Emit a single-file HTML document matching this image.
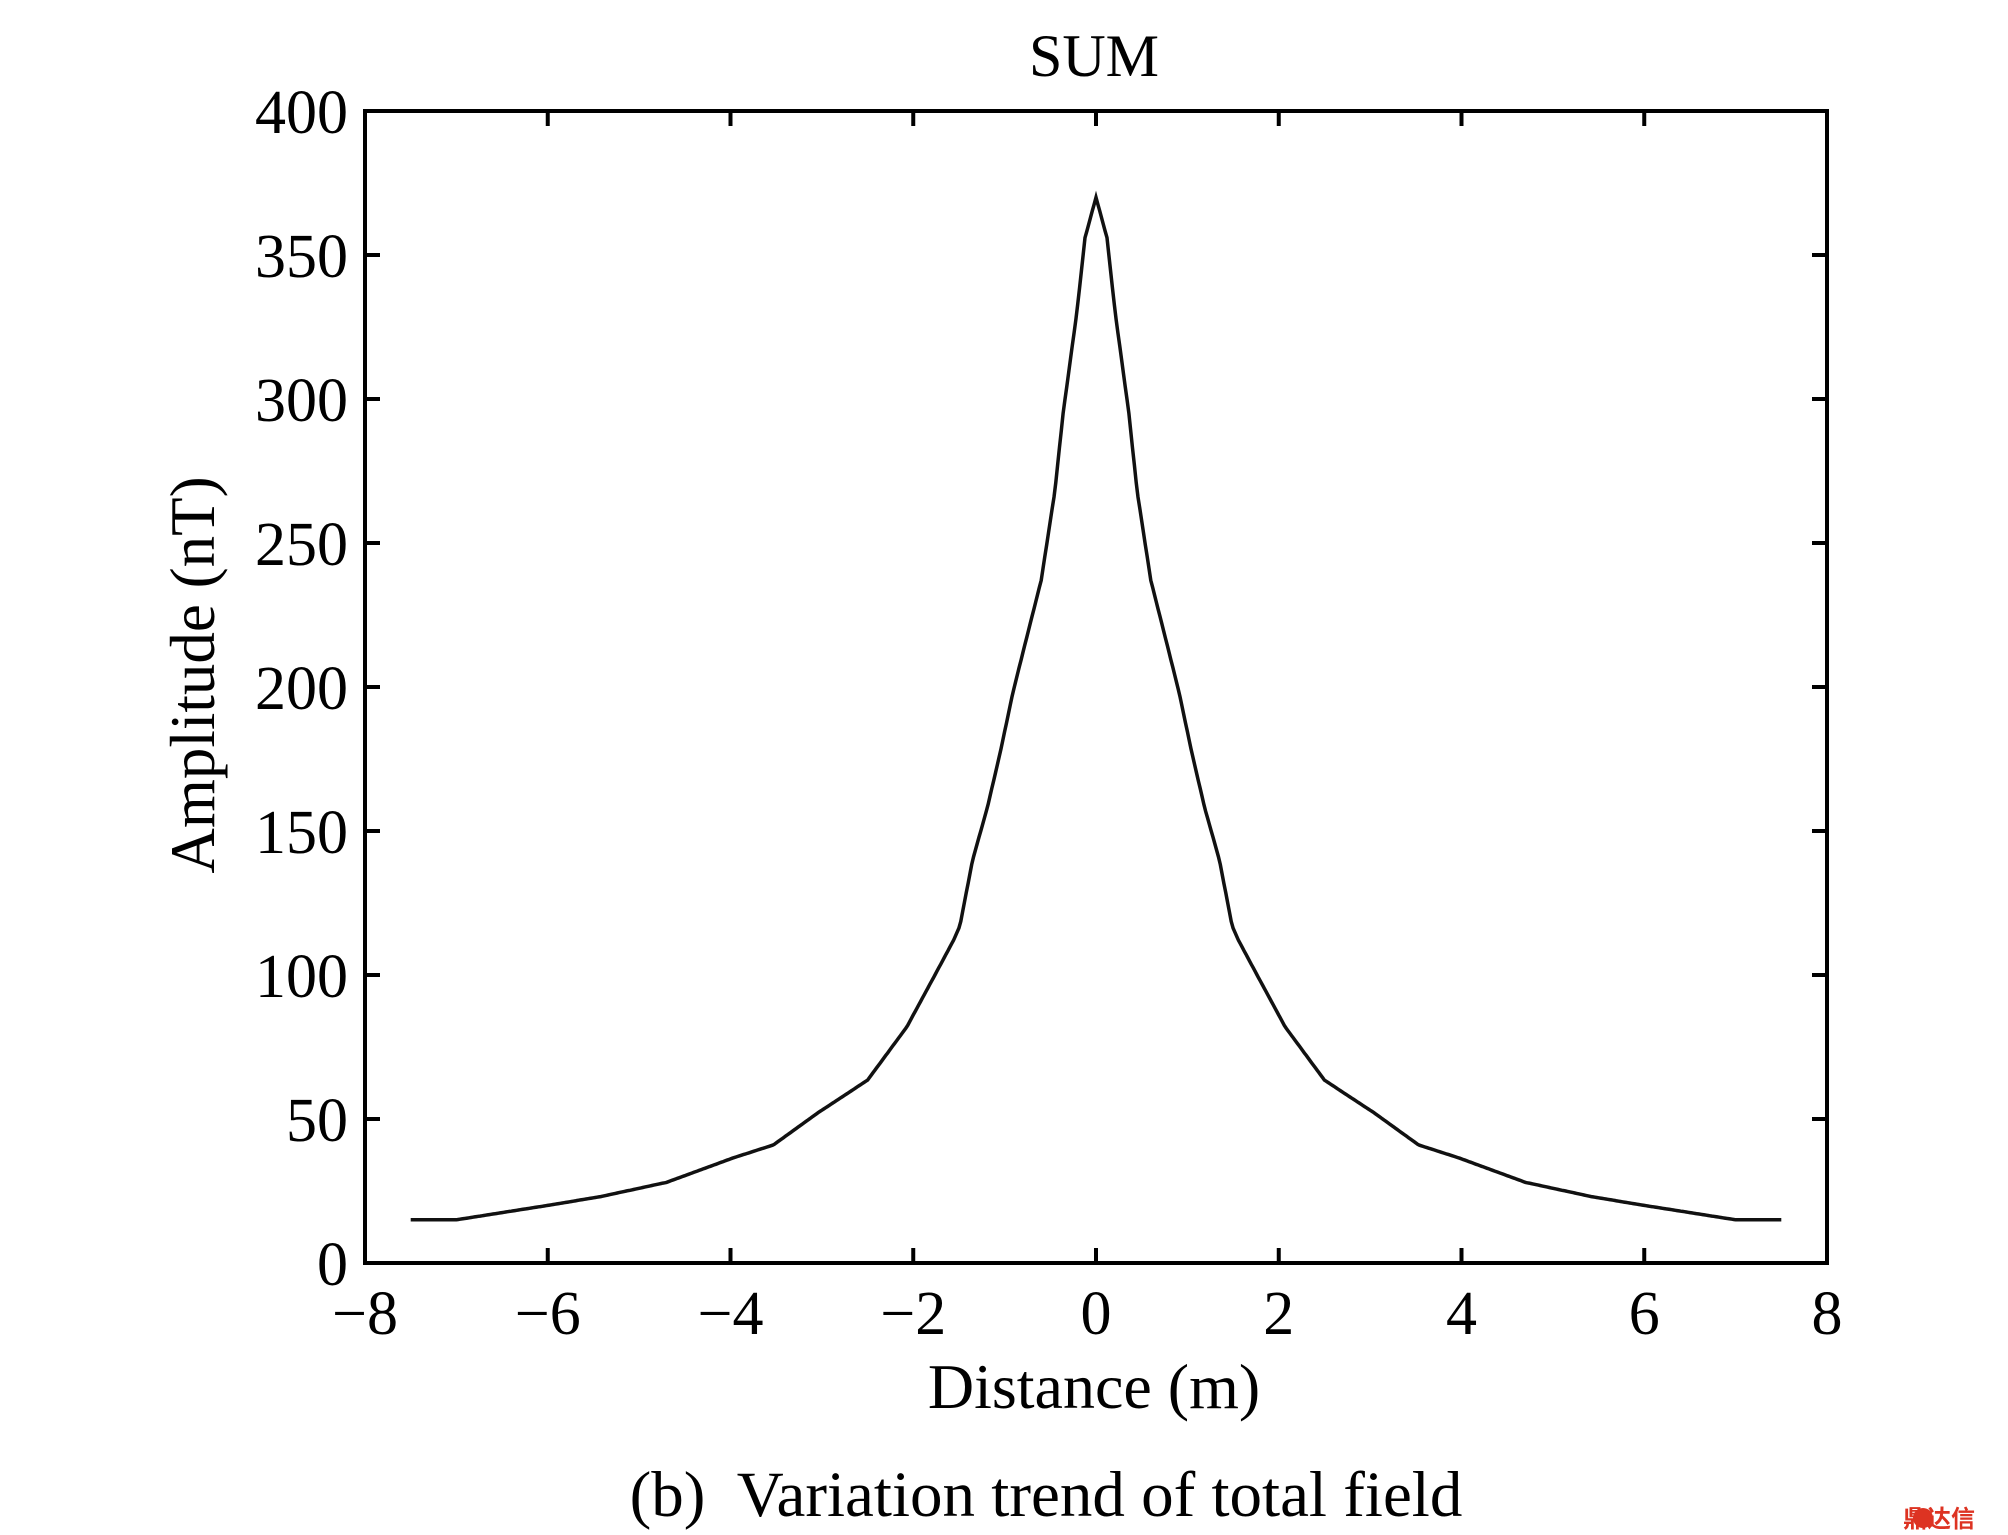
<!DOCTYPE html>
<html><head><meta charset="utf-8"><style>
body{margin:0;background:#fff}
svg{display:block}
text{font-family:"Liberation Serif",serif;fill:#000}
</style></head><body>
<svg id="s" width="2008" height="1535" viewBox="0 0 2008 1535" xmlns="http://www.w3.org/2000/svg">
<rect width="2008" height="1535" fill="#fff"/>
<text x="1094" y="76" font-size="60" text-anchor="middle">SUM</text>
<g id="ax" stroke="#000" stroke-width="4" fill="none"></g>
<g id="lab" font-size="62"></g>
<path id="curve" fill="none" stroke="#111" stroke-width="3.5"/>
<text x="1094" y="1408" font-size="64" text-anchor="middle">Distance (m)</text>
<text transform="translate(214,675) rotate(-90)" font-size="63" text-anchor="middle">Amplitude (nT)</text>
<text x="1046" y="1516" font-size="65" text-anchor="middle" xml:space="preserve">(b)  Variation trend of total field</text>
<text x="1975" y="1527" font-size="24" text-anchor="end" style="fill:#d32;font-family:'Noto Sans CJK SC',sans-serif;font-weight:bold">鼎达信</text>
<circle cx="1923" cy="1518" r="10" fill="#d32"/>
</svg>
<script>
var L=365,R=1827,T=111,B=1263;
function X(v){return L+(v+8)*(R-L)/16}
function Y(v){return B-v*(B-T)/400}
var ax=document.getElementById('ax'),lab=document.getElementById('lab'),h='',t='';
h+='<rect x="'+L+'" y="'+T+'" width="'+(R-L)+'" height="'+(B-T)+'"/>';
for(var i=-8;i<=8;i+=2){var x=X(i);h+='<line x1="'+x+'" y1="'+B+'" x2="'+x+'" y2="'+(B-15)+'"/><line x1="'+x+'" y1="'+T+'" x2="'+x+'" y2="'+(T+15)+'"/>';
t+='<text x="'+x+'" y="1334" text-anchor="middle">'+(i<0?'\u2212'+(-i):i)+'</text>';}
for(var v=0;v<=400;v+=50){var y=Y(v);h+='<line x1="'+L+'" y1="'+y+'" x2="'+(L+15)+'" y2="'+y+'"/><line x1="'+R+'" y1="'+y+'" x2="'+(R-15)+'" y2="'+y+'"/>';
t+='<text x="348" y="'+(y+22)+'" text-anchor="end">'+v+'</text>';}
ax.innerHTML=h;lab.innerHTML=t;
var tb=[[0,370],[0.12,356],[0.21,330],[0.36,295],[0.45,268],[0.6,237],[0.76,217],[0.91,198],[1.05,177],[1.19,158],[1.35,140],[1.49,117],[1.56,112],[1.78,99],[2.07,82],[2.5,63.5],[3.05,52],[3.53,41],[3.97,36.5],[4.7,28],[5.43,23],[6,20],[6.5,17.5],[7,15],[7.6,15]];
function f(a){a=Math.abs(a);for(var k=1;k<tb.length;k++){if(a<=tb[k][0]){var p=tb[k-1],q=tb[k];return p[1]+(q[1]-p[1])*(a-p[0])/(q[0]-p[0]);}}return 15;}
var d='';for(var xx=-7.5;xx<=7.5001;xx+=0.02){d+=(d?'L':'M')+X(xx).toFixed(1)+' '+Y(f(xx)).toFixed(1);}
document.getElementById('curve').setAttribute('d',d);
</script>
</body></html>
